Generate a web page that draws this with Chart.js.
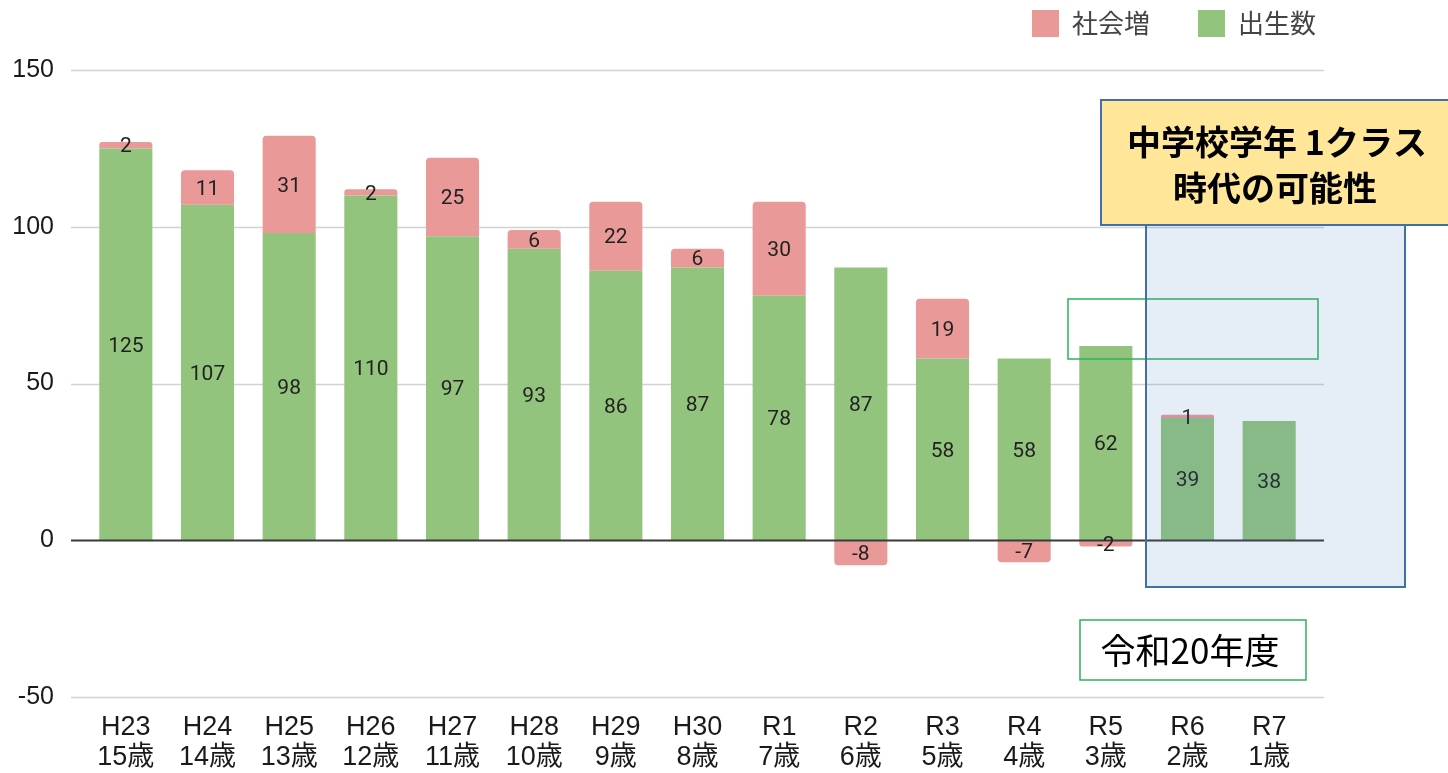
<!DOCTYPE html>
<html>
<head>
<meta charset="utf-8">
<script src="https://cdn.jsdelivr.net/npm/chart.js@4"></script>
<style>
html,body{margin:0;padding:0;background:#fff;}
#wrap{width:1448px;height:773px;position:relative;}
</style>
</head>
<body>
<div id="wrap"><canvas id="c" width="1448" height="773"></canvas></div>
<script>
// ---- data ----
const eraLabels = ['H23','H24','H25','H26','H27','H28','H29','H30','R1','R2','R3','R4','R5','R6','R7'];
const ageLabels = ['15歳','14歳','13歳','12歳','11歳','10歳','9歳','8歳','7歳','6歳','5歳','4歳','3歳','2歳','1歳'];
const births = [125,107,98,110,97,93,86,87,78,87,58,58,62,39,38];
const socialIncrease = [2,11,31,2,25,6,22,6,30,-8,19,-7,-2,1,null];
const yTicks = [-50,0,50,100,150];
const seriesNames = ['出生数','社会増'];

const GREEN = '#93c47d';
const PINK = '#ea9999';
const LABEL_FONT = '"Liberation Sans", "Noto Sans CJK JP", sans-serif';
const CJK_FONT = '"Noto Sans CJK JP", sans-serif';

// ---- plugins ----
const gridPlugin = {
  id: 'extGrid',
  beforeDatasetsDraw(chart) {
    const {ctx, chartArea, scales} = chart;
    ctx.save();
    ctx.strokeStyle = '#d2d2d2';
    ctx.lineWidth = 1.6;
    yTicks.forEach(v => {
      if (v === 0) return;
      const y = Math.round(scales.y.getPixelForValue(v)) + 0.5;
      ctx.beginPath();
      ctx.moveTo(chartArea.left - 14, y);
      ctx.lineTo(chartArea.right + 14, y);
      ctx.stroke();
    });
    ctx.restore();
  },
  afterDatasetsDraw(chart) {
    const {ctx, chartArea, scales} = chart;
    ctx.save();
    // zero baseline
    const y0 = Math.round(scales.y.getPixelForValue(0)) + 0.5;
    ctx.strokeStyle = '#3a3a3a';
    ctx.lineWidth = 2;
    ctx.beginPath();
    ctx.moveTo(chartArea.left - 14, y0);
    ctx.lineTo(chartArea.right + 14, y0);
    ctx.stroke();
    // value labels
    ctx.font = '21px Roboto, "Noto Sans", sans-serif';
    ctx.fillStyle = '#222';
    ctx.textAlign = 'center';
    ctx.textBaseline = 'middle';
    chart.data.datasets.forEach((ds, i) => {
      const meta = chart.getDatasetMeta(i);
      meta.data.forEach((bar, j) => {
        const v = ds.data[j];
        if (v === null || v === undefined) return;
        const p = bar.getProps(['x','y','base'], true);
        ctx.fillText(String(v), p.x, (p.y + p.base) / 2 + 2);
      });
    });
    ctx.restore();
  }
};

const annotations = [
  {type:'box', x1:1068, y1:299, x2:1318, y2:359, fill:null, stroke:'#2db35c', lw:1.5},
  {type:'box', x1:1146, y1:215, x2:1405, y2:587, fill:'rgba(70,130,200,0.14)', stroke:'#4170a6', lw:2},
  {type:'box', x1:1101, y1:100, x2:1452, y2:225, fill:'#ffe699', stroke:'#4170a6', lw:2},
  {type:'box', x1:1080, y1:620, x2:1306, y2:680, fill:'#ffffff', stroke:'#2db35c', lw:1.5},
  {type:'text', text:'中学校学年 1クラス', x:1277, y:142, font:'bold 34px ' + CJK_FONT},
  {type:'text', text:'時代の可能性', x:1275, y:188, font:'bold 34px ' + CJK_FONT},
  {type:'text', text:'令和20年度', x:1190, y:651, font:'35px ' + CJK_FONT}
];

const overlayPlugin = {
  id: 'overlay',
  afterDraw(chart) {
    const ctx = chart.ctx;
    ctx.save();
    annotations.forEach(a => {
      if (a.type === 'box') {
        if (a.fill) { ctx.fillStyle = a.fill; ctx.fillRect(a.x1, a.y1, a.x2 - a.x1, a.y2 - a.y1); }
        ctx.strokeStyle = a.stroke; ctx.lineWidth = a.lw;
        ctx.strokeRect(a.x1, a.y1, a.x2 - a.x1, a.y2 - a.y1);
      } else {
        ctx.font = a.font; ctx.fillStyle = '#000';
        ctx.textAlign = 'center'; ctx.textBaseline = 'middle';
        ctx.fillText(a.text, a.x, a.y);
      }
    });
    ctx.restore();
  }
};

new Chart(document.getElementById('c'), {
  type: 'bar',
  data: {
    labels: eraLabels.map((e, i) => [e, ageLabels[i]]),
    datasets: [
      {label: seriesNames[0], data: births, backgroundColor: GREEN, borderWidth: 0, borderRadius: 0},
      {label: seriesNames[1], data: socialIncrease, backgroundColor: PINK, borderWidth: 0, borderRadius: 4}
    ]
  },
  options: {
    responsive: false,
    animation: false,
    devicePixelRatio: 1,
    layout: {padding: {top: -38, right: 84, left: 0, bottom: 0}},
    datasets: {bar: {barPercentage: 0.65, categoryPercentage: 1}},
    scales: {
      x: {
        stacked: true,
        grid: {display: false, drawTicks: false},
        border: {display: false},
        ticks: {font: {family: LABEL_FONT, size: 27, lineHeight: 1.12}, color: '#1a1a1a', padding: 15, maxRotation: 0, autoSkip: false},
        afterFit(s) { s.height = 76; }
      },
      y: {
        stacked: true,
        min: -50, max: 150,
        grid: {display: false, drawTicks: false},
        border: {display: false},
        ticks: {stepSize: 50, font: {family: LABEL_FONT, size: 25}, color: '#1a1a1a', padding: 31},
        afterFit(s) { s.width = 85; }
      },
      y2: {
        position: 'right',
        display: true,
        grid: {display: false, drawTicks: false},
        border: {display: false},
        ticks: {display: false},
        afterFit(s) { s.width = 54; }
      }
    },
    plugins: {
      legend: {
        position: 'top',
        align: 'end',
        reverse: true,
        labels: {boxWidth: 27, boxHeight: 27, padding: 48, color: '#444', font: {family: CJK_FONT, size: 26}}
      },
      subtitle: {display: true, text: '', weight: 500, padding: 0, font: {size: 10, lineHeight: 2.3}},
      tooltip: {enabled: false}
    }
  },
  plugins: [gridPlugin, overlayPlugin]
});
</script>
</body>
</html>
